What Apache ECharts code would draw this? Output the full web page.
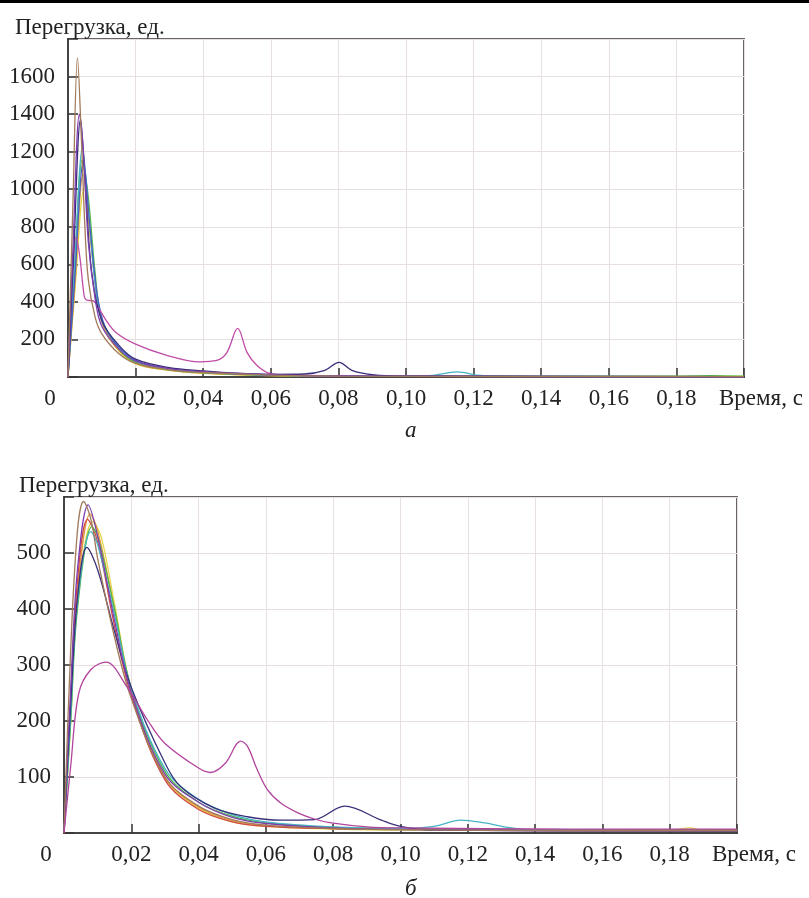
<!DOCTYPE html>
<html>
<head>
<meta charset="utf-8">
<script src="https://cdn.jsdelivr.net/npm/echarts@6/dist/echarts.min.js"></script>
<style>
  html, body { margin: 0; padding: 0; background: #fff; }
  #chart { width: 809px; height: 898px; }
</style>
</head>
<body>
<div id="chart"></div>
<script>
// время, с / перегрузка, ед. — считано с рисунка
// а) верхний график
const topBrown = [[0,0],[0.0015,950],[0.0028,1700],[0.004,1250],[0.005,800],[0.006,520],[0.008,320],[0.01,230],[0.015,125],[0.02,72],[0.03,38],[0.04,24],[0.06,10],[0.08,5],[0.1,3],[0.2,2]];
const topPurple = [[0,0],[0.0015,700],[0.0034,1400],[0.0045,1220],[0.006,720],[0.008,420],[0.01,270],[0.015,150],[0.02,85],[0.03,45],[0.04,28],[0.06,12],[0.08,6],[0.1,3],[0.2,2]];
const topNavy = [[0,0],[0.0016,620],[0.0037,1370],[0.005,1060],[0.007,560],[0.01,300],[0.015,170],[0.02,95],[0.03,50],[0.04,33],[0.05,20],[0.06,14],[0.07,16],[0.076,35],[0.0802,78],[0.084,35],[0.09,12],[0.1,4],[0.2,2]];
const topCyan = [[0,0],[0.002,620],[0.0043,1218],[0.006,900],[0.008,500],[0.01,300],[0.015,160],[0.02,85],[0.03,42],[0.04,25],[0.06,10],[0.1,5],[0.108,9],[0.115,27],[0.122,8],[0.13,3],[0.2,2]];
const topGreen = [[0,0],[0.002,560],[0.0042,1154],[0.006,960],[0.008,560],[0.01,310],[0.015,150],[0.02,78],[0.03,38],[0.04,22],[0.06,9],[0.1,4],[0.18,4],[0.19,7],[0.2,4]];
const topYellow = [[0,0],[0.002,450],[0.0048,1005],[0.007,680],[0.01,300],[0.015,140],[0.02,70],[0.03,35],[0.04,20],[0.06,8],[0.1,4],[0.2,3]];
const topBlue = [[0,0],[0.002,520],[0.0046,1150],[0.0065,800],[0.009,400],[0.012,230],[0.02,90],[0.03,46],[0.04,27],[0.06,11],[0.1,4],[0.2,2]];
const topOrange = [[0,0],[0.002,480],[0.0045,1080],[0.0065,760],[0.009,380],[0.012,210],[0.02,75],[0.03,36],[0.04,21],[0.06,8],[0.1,3],[0.2,2]];
const topMagenta = [[0,0],[0.0012,500],[0.0024,745],[0.0035,640],[0.0048,430],[0.0055,410],[0.0075,405],[0.009,370],[0.011,310],[0.014,240],[0.02,175],[0.029,117],[0.039,81],[0.044,88],[0.047,130],[0.0502,259],[0.053,130],[0.056,60],[0.06,18],[0.07,8],[0.1,4],[0.2,2]];

// б) нижний график
const botBrown = [[0,0],[0.002,330],[0.004,540],[0.0058,592],[0.008,560],[0.01,490],[0.015,350],[0.02,240],[0.03,100],[0.04,48],[0.05,24],[0.06,14],[0.08,8],[0.1,6],[0.15,4],[0.2,4]];
const botPurple = [[0,0],[0.002,260],[0.004,470],[0.0072,586],[0.01,530],[0.015,380],[0.02,250],[0.03,105],[0.04,55],[0.05,28],[0.06,17],[0.08,9],[0.1,6],[0.15,4],[0.2,4]];
const botOrange = [[0,0],[0.002,220],[0.004,430],[0.0078,570],[0.01,540],[0.015,400],[0.02,255],[0.03,100],[0.04,46],[0.05,22],[0.06,13],[0.08,8],[0.1,7],[0.15,6],[0.2,6]];
const botYellow = [[0,0],[0.002,200],[0.004,410],[0.0085,556],[0.011,530],[0.015,410],[0.02,258],[0.03,98],[0.04,44],[0.05,20],[0.06,12],[0.08,7],[0.1,5],[0.18,5],[0.186,9],[0.19,5],[0.2,5]];
const botGreen = [[0,0],[0.002,200],[0.004,400],[0.0083,547],[0.01,530],[0.015,400],[0.02,258],[0.03,110],[0.04,55],[0.05,30],[0.06,18],[0.08,10],[0.1,8],[0.12,6],[0.2,5]];
const botCyan = [[0,0],[0.002,210],[0.004,410],[0.008,538],[0.01,515],[0.015,390],[0.02,258],[0.03,115],[0.04,60],[0.05,33],[0.06,20],[0.08,11],[0.1,8],[0.11,12],[0.118,23],[0.125,18],[0.132,10],[0.14,5],[0.2,4]];
const botNavy = [[0,0],[0.002,230],[0.004,420],[0.0068,510],[0.01,470],[0.015,360],[0.02,260],[0.03,125],[0.0346,83],[0.0446,45],[0.0545,29],[0.0645,23],[0.0744,24],[0.0834,48],[0.0943,23],[0.1,12],[0.11,5],[0.2,3]];
const botRed = [[0,0],[0.002,240],[0.004,450],[0.007,560],[0.01,520],[0.015,370],[0.02,245],[0.03,95],[0.04,42],[0.05,20],[0.06,12],[0.08,8],[0.1,7],[0.15,6],[0.2,6]];
const botMagenta = [[0,0],[0.002,120],[0.0044,250],[0.008,292],[0.0125,305],[0.0187,261],[0.025,200],[0.03,160],[0.04,116],[0.0436,108],[0.048,125],[0.0525,164],[0.0545,155],[0.0575,112],[0.0605,77],[0.0645,53],[0.0695,36],[0.0744,25],[0.0794,18],[0.09,11],[0.1,9],[0.15,7],[0.2,7]];

// подписи осей
const xTicksMax = 0.2;
const topYMax = 1800;
const botYMax = 600;

const font = 'Liberation Serif';
const fs = 23;
const txt = '#222';

function xLabel(v) {
  if (v === 0) return '{o|0}';
  if (Math.abs(v - xTicksMax) < 1e-9) return '';
  return v.toFixed(2).replace('.', ',');
}

function yLabelFn(max) {
  return function (v) {
    if (v === 0 || v === max) return '';
    return String(v);
  };
}

function makeX(gridIndex) {
  return {
    type: 'value', gridIndex: gridIndex, min: 0, max: xTicksMax, interval: 0.02,
    name: 'Время, с', nameLocation: 'end', nameGap: -25,
    nameTextStyle: { fontFamily: font, fontSize: fs, color: txt, align: 'left', verticalAlign: 'top', padding: [10, 0, 0, 0] },
    axisLine: { lineStyle: { color: '#444', width: 2 } },
    axisTick: { inside: true, length: 9, lineStyle: { color: '#333', width: 1.5 } },
    axisLabel: { formatter: xLabel, fontFamily: font, fontSize: fs, color: txt, margin: 10,
      rich: { o: { fontFamily: font, fontSize: fs, color: txt, padding: [0, 36, 0, 0] } } },
    splitLine: { show: true, lineStyle: { color: '#e8dfdf', width: 1 } }
  };
}

function makeY(gridIndex, max, step) {
  return {
    type: 'value', gridIndex: gridIndex, min: 0, max: max, interval: step,
    axisLine: { show: true, lineStyle: { color: '#444', width: 2 } },
    axisTick: { show: true, inside: true, length: 10, lineStyle: { color: '#333', width: 1.5 } },
    axisLabel: { formatter: yLabelFn(max), fontFamily: font, fontSize: fs, color: txt, margin: 13 },
    splitLine: { show: true, lineStyle: { color: '#e8dfdf', width: 1 } }
  };
}

function line(data, color, g) {
  return {
    type: 'line', data: data, xAxisIndex: g, yAxisIndex: g,
    showSymbol: false, smooth: 0.35, animation: false,
    lineStyle: { color: color, width: 1.3 }, itemStyle: { color: color }
  };
}

const myChart = echarts.init(document.getElementById('chart'));
myChart.setOption({
  backgroundColor: '#fff',
  animation: false,
  title: [
    { text: 'Перегрузка, ед.', left: 10, top: 11, textStyle: { fontFamily: font, fontSize: fs, fontWeight: 'normal', color: txt } },
    { text: 'Перегрузка, ед.', left: 14, top: 469, textStyle: { fontFamily: font, fontSize: fs, fontWeight: 'normal', color: txt } },
    { text: 'а', left: 400, top: 414, textStyle: { fontFamily: font, fontSize: fs, fontStyle: 'italic', fontWeight: 'normal', color: txt } },
    { text: 'б', left: 400, top: 872, textStyle: { fontFamily: font, fontSize: fs, fontStyle: 'italic', fontWeight: 'normal', color: txt } }
  ],
  graphic: [
    { type: 'rect', shape: { x: 0, y: 0, width: 809, height: 3 }, style: { fill: '#000' } }
  ],
  grid: [
    { left: 68, top: 39, width: 676, height: 338, show: true, borderColor: '#666', borderWidth: 2, backgroundColor: 'transparent' },
    { left: 64, top: 497, width: 673, height: 336, show: true, borderColor: '#666', borderWidth: 2, backgroundColor: 'transparent' }
  ],
  xAxis: [makeX(0), makeX(1)],
  yAxis: [makeY(0, topYMax, 200), makeY(1, botYMax, 100)],
  series: [
    line(topYellow, '#e6d84a', 0),
    line(topOrange, '#e09a3a', 0),
    line(topGreen, '#55bb44', 0),
    line(topCyan, '#45b5c5', 0),
    line(topBlue, '#4a62c8', 0),
    line(topMagenta, '#c04ca6', 0),
    line(topNavy, '#3a2f7a', 0),
    line(topPurple, '#7d3fb0', 0),
    line(topBrown, '#a07a5a', 0),
    line(botYellow, '#e6d84a', 1),
    line(botOrange, '#e09a3a', 1),
    line(botRed, '#d04848', 1),
    line(botGreen, '#4fb848', 1),
    line(botCyan, '#45b5c5', 1),
    line(botNavy, '#3a2f7a', 1),
    line(botPurple, '#7d3fb0', 1),
    line(botBrown, '#a07a5a', 1),
    line(botMagenta, '#b2449e', 1)
  ]
});
</script>
</body>
</html>
